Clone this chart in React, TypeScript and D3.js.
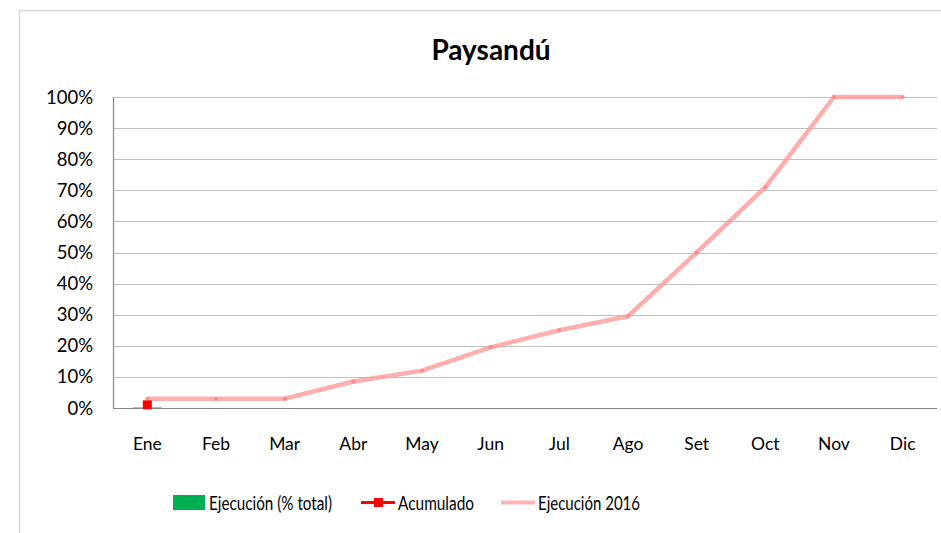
import * as d3 from 'd3';

const months = ['Ene', 'Feb', 'Mar', 'Abr', 'May', 'Jun', 'Jul', 'Ago', 'Set', 'Oct', 'Nov', 'Dic'];
const ejecucionTotal: (number | null)[] = [0.3, null, null, null, null, null, null, null, null, null, null, null];
const acumulado: (number | null)[] = [1, null, null, null, null, null, null, null, null, null, null, null];
const ejecucion2016 = [3, 3, 3, 8.5, 12, 19.5, 25, 29.5, 50, 71, 100, 100];
const yTicks = [0, 10, 20, 30, 40, 50, 60, 70, 80, 90, 100];

const W = 941;
const H = 533;
const font = 'Lato, "Open Sans", sans-serif';

export default function App() {
  const left = 113;
  const right = 937;
  const top = 97;
  const bottom = 408;

  const x = d3.scaleBand<string>().domain(months).range([left, right]);
  const y = d3.scaleLinear().domain([0, 100]).range([bottom, top]);

  const line = d3.line<number>()
    .x((_, i) => (x(months[i]) as number) + x.bandwidth() / 2)
    .y(d => y(d));

  const barW = x.bandwidth() * 0.42;

  return (
    <svg width={W} height={H} style={{ position: 'absolute', left: 0, top: 0, background: '#fff' }}>
      <rect x={19.5} y={10.5} width={W} height={H} fill="#fff" stroke="#d9d9d9" strokeWidth={1.5} />
      <text x={491} y={60} textAnchor="middle" fontFamily={font} fontWeight="bold" fontSize={28} fill="#000">
        Paysandú
      </text>

      {yTicks.map(t => (
        <g key={t}>
          {t > 0 && (
            <line x1={left} x2={right} y1={Math.round(y(t)) + 0.5} y2={Math.round(y(t)) + 0.5} stroke="#bfbfbf" strokeWidth={1.2} />
          )}
          <text x={93} y={y(t) + 6.5} textAnchor="end" fontFamily={font} fontSize={18.5} fill="#000">
            {t}%
          </text>
        </g>
      ))}

      <line x1={left + 0.5} x2={left + 0.5} y1={top} y2={bottom} stroke="#888" strokeWidth={1.2} />
      <line x1={left} x2={right} y1={bottom + 0.5} y2={bottom + 0.5} stroke="#888" strokeWidth={1.2} />

      {months.map((m, i) => {
        const v = ejecucionTotal[i];
        if (v == null) return null;
        const cx = (x(m) as number) + x.bandwidth() / 2;
        return <rect key={m} x={cx - barW / 2} y={y(v)} width={barW} height={bottom - y(v)} fill="#00b050" opacity={0.5} />;
      })}

      <path d={line(ejecucion2016) ?? ''} fill="none" stroke="#ff9a9a" strokeOpacity={0.8} strokeWidth={4.5} />
      {ejecucion2016.map((v, i) => (
        <circle key={i} cx={(x(months[i]) as number) + x.bandwidth() / 2} cy={y(v)} r={2} fill="#ff8080" opacity={0.8} />
      ))}

      {months.map((m, i) => {
        const v = acumulado[i];
        if (v == null) return null;
        const cx = (x(m) as number) + x.bandwidth() / 2;
        return <rect key={m} x={cx - 4.5} y={y(v) - 4.5} width={9} height={9} fill="#ff0000" />;
      })}

      {months.map(m => (
        <text key={m} x={(x(m) as number) + x.bandwidth() / 2} y={450} textAnchor="middle" fontFamily={font} fontSize={17.5} fill="#000">
          {m}
        </text>
      ))}

      <g fontFamily={font} fontSize={18.5} fill="#000">
        <rect x={173} y={495} width={32} height={15} fill="#00b050" />
        <text x={209} y={510} textLength={123} lengthAdjust="spacingAndGlyphs">Ejecución (% total)</text>
        <line x1={361} x2={395} y1={502.5} y2={502.5} stroke="#ff0000" strokeWidth={3} />
        <rect x={374} y={498} width={9} height={9} fill="#ff0000" />
        <text x={398} y={510} textLength={76} lengthAdjust="spacingAndGlyphs">Acumulado</text>
        <line x1={501} x2={535} y1={502.5} y2={502.5} stroke="#ffb3b3" strokeWidth={4} />
        <text x={538} y={510} textLength={102} lengthAdjust="spacingAndGlyphs">Ejecución 2016</text>
      </g>
    </svg>
  );
}
